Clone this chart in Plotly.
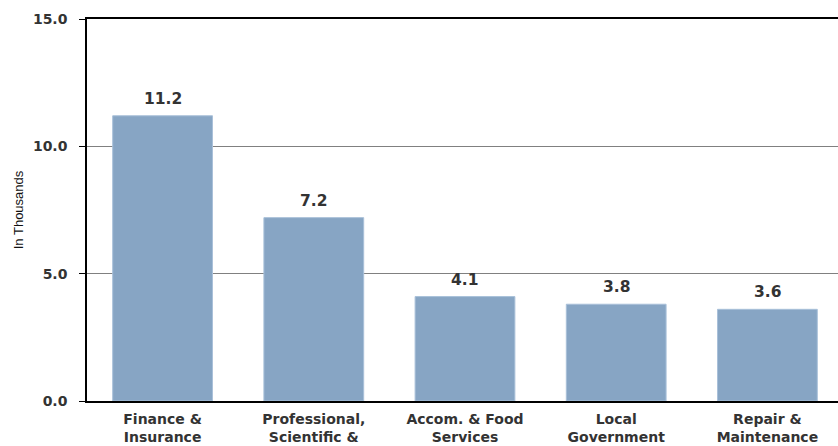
import plotly.graph_objects as go

categories = ["Finance &<br>Insurance", "Professional,<br>Scientific &<br>Technical",
              "Accom. & Food<br>Services", "Local<br>Government", "Repair &<br>Maintenance"]
values = [11.2, 7.2, 4.1, 3.8, 3.6]
value_labels = ["11.2", "7.2", "4.1", "3.8", "3.6"]
y_ticks = [0, 5, 10, 15]
y_tick_labels = ["0.0", "5.0", "10.0", "15.0"]

BOLD = "DejaVu Sans"

fig = go.Figure(go.Bar(
    x=categories, y=values,
    marker=dict(color="#87A5C4", line=dict(color="#A9C0D9", width=1)),
))

for c, v, t in zip(categories, values, value_labels):
    fig.add_annotation(x=c, y=v, text=t, showarrow=False, yanchor="bottom", yshift=6,
                       font=dict(family=BOLD, size=15.5, color="#333333", weight="bold"))

fig.update_layout(
    width=838, height=446,
    margin=dict(l=87, r=0, t=19, b=45, autoexpand=False),
    plot_bgcolor="white", paper_bgcolor="white",
    bargap=0.34, showlegend=False,
    font=dict(family="Liberation Sans, Arial", color="#333333"),
)
fig.update_xaxes(
    type="category", range=[-0.5, 4.467], automargin=False,
    showline=True, linecolor="black", linewidth=2, mirror=True,
    ticks="", tickfont=dict(family=BOLD, size=14, weight="bold", color="#333333"),
    ticklabelstandoff=4,
    showgrid=False,
)
fig.update_yaxes(
    range=[0, 15], tickvals=y_ticks, ticktext=y_tick_labels, automargin=False,
    showline=True, linecolor="black", linewidth=1.5,
    ticks="outside", ticklen=6, tickcolor="black", tickwidth=1,
    tickfont=dict(family=BOLD, size=14, weight="bold", color="#333333"),
    ticklabelstandoff=9,
    showgrid=True, gridcolor="#808080", gridwidth=1,
    title=dict(text="In Thousands", font=dict(family="Liberation Sans, Arial", size=13, color="#111111"), standoff=6),
    zeroline=False,
)

fig.write_html("out.html", config={"displayModeBar": False},
               post_script="document.body.style.margin='0';document.body.style.overflow='hidden';")
